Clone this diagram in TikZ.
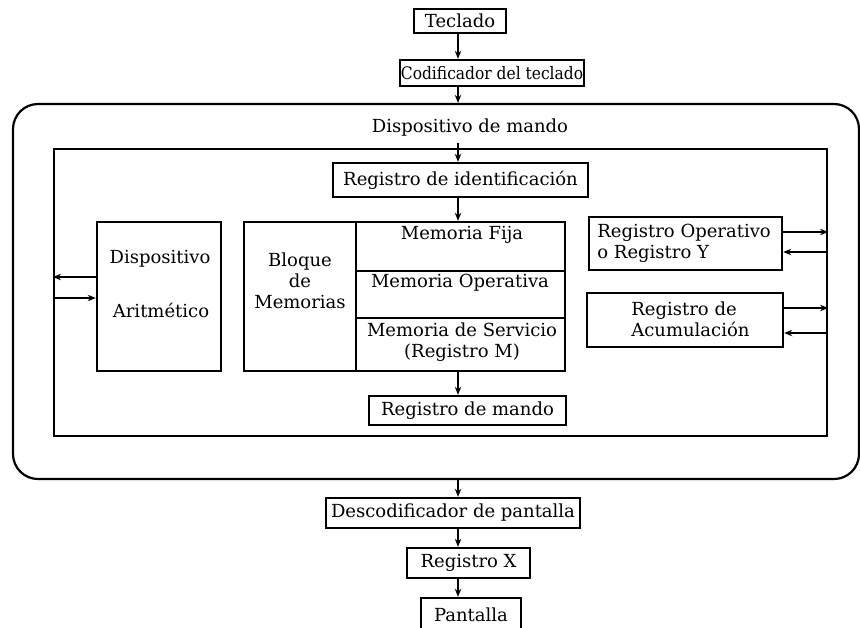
\documentclass[tikz,border=0pt]{standalone}
\usepackage{fontspec}
\setmainfont{DejaVu Serif}
\usetikzlibrary{arrows.meta,calc}
\begin{document}
\begin{tikzpicture}[x=0.5pt,y=-0.5pt,
  txt/.style={font=\fontsize{9}{10.6}\selectfont, inner sep=0pt, align=center},
  box/.style={draw, line width=1.2pt, inner sep=0pt, txt},
  frame/.style={draw, line width=1.1pt, inner sep=0pt},
  arr/.style={line width=0.8pt, -{Stealth[length=4pt,width=3.2pt]}}]
\useasboundingbox (0,0) rectangle (860,627);
\clip (0,0) rectangle (860,627);
% frames
\node[frame, rounded corners=12.5pt, minimum width=423pt, minimum height=187.5pt] (outer) at (436,291.5) {};
\node[frame, minimum width=386.5pt, minimum height=143.5pt] (inner) at (440.5,292.5) {};
% boxes
\node[box, minimum width=46pt, minimum height=12pt] (tec) at (460,21) {Teclado};
\node[box, minimum width=92pt, minimum height=13pt] (cod) at (492,73) {\fontsize{8.6}{10}\selectfont\scalebox{0.9}[1]{Codificador del teclado}};
\node[txt] (dm) at (470,128) {Dispositivo de mando};
\node[box, minimum width=127.5pt, minimum height=17pt] (regid) at (460.5,180) {Registro de identificación};
\node[box, minimum width=62pt, minimum height=74.5pt] (arit) at (159,296.5) {};
\node[box, minimum width=56pt, minimum height=74.5pt] (bloque) at (300,296.5) {};
\node[box, minimum width=104.5pt, minimum height=24.5pt] (mfija) at (460.5,246.5) {};
\node[box, minimum width=104.5pt, minimum height=23.5pt] (mop) at (460.5,294.5) {};
\node[box, minimum width=104.5pt, minimum height=26.5pt] (mserv) at (460.5,344.5) {};
\node[box, minimum width=96.5pt, minimum height=26.5pt] (regop) at (685.5,243.5) {};
\node[box, minimum width=98pt, minimum height=27pt] (regac) at (685,320) {};
\node[box, minimum width=98.5pt, minimum height=14.5pt] (regm) at (467.5,410.5) {Registro de mando};
\node[box, minimum width=127pt, minimum height=15pt] (desc) at (453,513) {Descodificador de pantalla};
\node[box, minimum width=61.5pt, minimum height=15pt] (regx) at (468.5,563) {Registro X};
\node[box, minimum width=50pt, minimum height=17pt] (pant) at (471,615) {Pantalla};
% texts inside boxes
\node[txt] (t1) at (160,259) {Dispositivo};
\node[txt] (t2) at (161,310) {Aritmético};
\node[txt] (t3) at (300,281) {Bloque\\de\\Memorias};
\node[txt] (t4) at (462,235) {Memoria Fija};
\node[txt] (t5) at (460,283) {Memoria Operativa};
\node[txt] (t6) at (462,342.5) {Memoria de Servicio\\(Registro M)};
\node[txt, align=left, anchor=west] (t7) at (597,243) {Registro Operativo\\o Registro Y};
\node[txt, align=left, anchor=west] (t8) at (631,319) {Registro de\\Acumulación};
% helper coordinates
\coordinate (ax) at (458,0);
\coordinate (l1) at (0,277);
\coordinate (l2) at (0,298);
\coordinate (r1) at (0,232);
\coordinate (r2) at (0,252);
\coordinate (r3) at (0,308);
\coordinate (r4) at (0,333);
% vertical arrows
\draw[arr] (ax |- tec.south) -- (ax |- cod.north);
\draw[arr] (ax |- cod.south) -- (ax |- outer.north);
\draw[arr] ($(ax |- dm.south)+(0,6)$) -- (ax |- regid.north);
\draw[arr] (ax |- regid.south) -- (ax |- mfija.north);
\draw[arr] (ax |- mserv.south) -- (ax |- regm.north);
\draw[arr] (ax |- outer.south) -- (ax |- desc.north);
\draw[arr] (ax |- desc.south) -- (ax |- regx.north);
\draw[arr] (ax |- regx.south) -- (ax |- pant.north);
% side arrows
\draw[arr] (arit.west |- l1) -- (inner.west |- l1);
\draw[arr] (inner.west |- l2) -- (arit.west |- l2);
\draw[arr] (regop.east |- r1) -- (inner.east |- r1);
\draw[arr] (inner.east |- r2) -- (regop.east |- r2);
\draw[arr] (regac.east |- r3) -- (inner.east |- r3);
\draw[arr] (inner.east |- r4) -- (regac.east |- r4);
\end{tikzpicture}
\end{document}
